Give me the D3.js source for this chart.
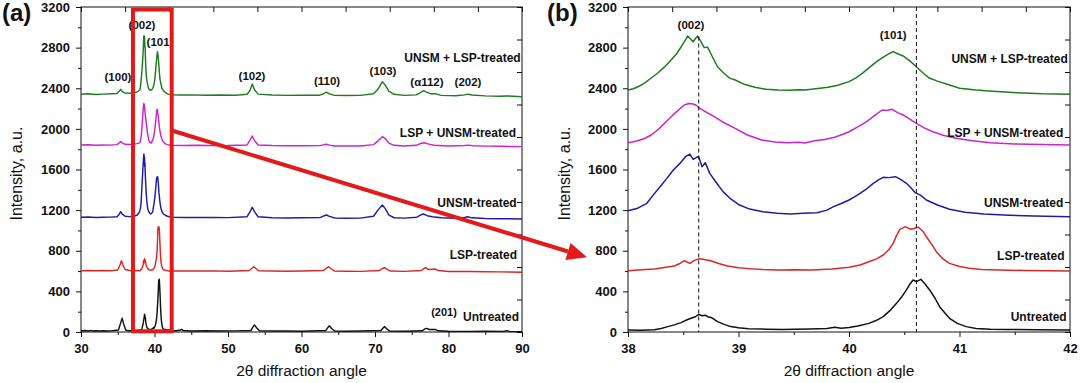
<!DOCTYPE html>
<html><head><meta charset="utf-8">
<script src="https://cdn.jsdelivr.net/npm/d3@7"></script>
<style>
body{margin:0;background:#fff}
svg{display:block}
text{font-family:"Liberation Sans",Arial,Helvetica,sans-serif;fill:#111}
</style>
</head><body>
<svg id="c" width="1080" height="383"></svg>
<script>
// ---------------- DATA ----------------
const seriesNames = ["Untreated","LSP-treated","UNSM-treated","LSP + UNSM-treated","UNSM + LSP-treated"];
const leftXTicks = [30,40,50,60,70,80,90];
const rightXTicks = [38,39,40,41,42];
const yTicks = [0,400,800,1200,1600,2000,2400,2800,3200];

// detailed patterns between 38 and 42 degrees (shown in panel b, and inside the box of panel a)
const untreatedZoom = [[38.00,20],[38.12,18],[38.24,22],[38.30,35],[38.36,53],[38.42,70],[38.48,92],[38.53,118],[38.57,135],[38.61,150],[38.64,174],[38.67,160],[38.70,165],[38.72,151],[38.76,140],[38.81,102],[38.87,75],[38.93,53],[39.00,42],[39.09,33],[39.25,28],[39.40,25],[39.51,26],[39.65,30],[39.80,35],[39.87,46],[39.93,38],[40.00,45],[40.08,60],[40.18,85],[40.25,115],[40.31,151],[40.37,210],[40.43,282],[40.48,350],[40.52,414],[40.55,470],[40.58,512],[40.61,496],[40.65,519],[40.69,470],[40.73,414],[40.78,330],[40.82,249],[40.87,185],[40.91,135],[40.98,85],[41.06,53],[41.15,35],[41.28,26],[41.45,25],[41.70,22],[42.00,20]];
const lspZoom = [[38.00,604],[38.12,612],[38.24,620],[38.33,635],[38.42,650],[38.47,675],[38.51,702],[38.56,676],[38.60,705],[38.65,722],[38.70,712],[38.75,702],[38.82,675],[38.90,650],[39.00,632],[39.09,624],[39.22,615],[39.36,610],[39.50,612],[39.66,610],[39.85,620],[40.00,637],[40.10,660],[40.18,692],[40.25,720],[40.31,758],[40.36,810],[40.40,873],[40.43,950],[40.46,1011],[40.51,1037],[40.54,1020],[40.57,1011],[40.60,1025],[40.63,1031],[40.67,990],[40.70,938],[40.75,860],[40.79,791],[40.85,720],[40.91,676],[41.00,645],[41.09,627],[41.20,615],[41.37,610],[41.60,605],[41.80,602],[42.00,600]];
const unsmZoom = [[38.00,1194],[38.08,1215],[38.17,1267],[38.23,1350],[38.29,1431],[38.35,1510],[38.41,1595],[38.47,1660],[38.52,1726],[38.56,1752],[38.59,1700],[38.62,1720],[38.64,1726],[38.67,1628],[38.70,1667],[38.74,1562],[38.80,1470],[38.86,1382],[38.93,1310],[39.01,1250],[39.10,1210],[39.22,1184],[39.35,1170],[39.47,1162],[39.58,1170],[39.71,1175],[39.80,1200],[39.86,1234],[39.93,1265],[40.00,1300],[40.05,1330],[40.10,1365],[40.16,1410],[40.22,1464],[40.27,1500],[40.31,1523],[40.36,1520],[40.42,1529],[40.47,1500],[40.52,1464],[40.56,1420],[40.60,1372],[40.65,1345],[40.70,1300],[40.80,1250],[40.91,1208],[41.05,1180],[41.22,1162],[41.45,1150],[41.67,1142],[42.00,1135]];
const lspUnsmZoom = [[38.00,1864],[38.08,1880],[38.15,1905],[38.21,1940],[38.28,2000],[38.36,2087],[38.44,2170],[38.51,2235],[38.55,2250],[38.59,2245],[38.62,2230],[38.65,2202],[38.70,2170],[38.78,2120],[38.87,2060],[38.97,2005],[39.08,1940],[39.21,1890],[39.33,1870],[39.45,1864],[39.55,1868],[39.60,1860],[39.69,1884],[39.78,1895],[39.87,1917],[39.94,1945],[40.00,1972],[40.08,2020],[40.16,2071],[40.23,2130],[40.30,2186],[40.34,2180],[40.39,2193],[40.44,2160],[40.49,2137],[40.55,2095],[40.61,2055],[40.68,2010],[40.76,1972],[40.86,1935],[40.97,1907],[41.10,1885],[41.28,1864],[41.50,1852],[41.75,1845],[42.00,1841]];
const unsmLspZoom = [[38.00,2383],[38.05,2395],[38.10,2420],[38.15,2450],[38.21,2501],[38.27,2550],[38.33,2610],[38.39,2678],[38.44,2740],[38.48,2806],[38.51,2860],[38.54,2914],[38.57,2880],[38.59,2858],[38.61,2890],[38.63,2914],[38.66,2860],[38.69,2800],[38.72,2805],[38.75,2740],[38.81,2612],[38.87,2545],[38.92,2500],[38.97,2481],[39.05,2440],[39.15,2409],[39.25,2390],[39.36,2383],[39.45,2380],[39.55,2385],[39.60,2383],[39.70,2395],[39.81,2409],[39.90,2430],[40.00,2465],[40.06,2500],[40.12,2547],[40.18,2600],[40.25,2662],[40.30,2700],[40.34,2727],[40.37,2745],[40.40,2760],[40.44,2740],[40.49,2718],[40.55,2670],[40.61,2612],[40.67,2550],[40.73,2498],[40.80,2470],[40.91,2432],[41.00,2400],[41.15,2383],[41.30,2370],[41.52,2356],[41.75,2345],[42.00,2340]];

// wide-range patterns below 38 and above 42 degrees (panel a)
const untreatedLow = [[30,10],[30.5,14],[31,10],[31.3,16],[31.6,10],[32,12],[32.5,9],[33,12],[33.5,10],[34,11],[34.5,14],[35.1,20],[35.4,90],[35.6,135],[35.8,80],[36.1,18],[36.6,12],[37.2,12],[37.6,15],[37.9,18]];
const untreatedHigh = [[42.3,15],[43.0,12],[43.5,20],[43.7,26],[43.9,14],[45,10],[47,12],[49,9],[51,11],[53.1,14],[53.4,50],[53.6,69],[53.9,40],[54.3,12],[56,9],[58,10],[60,8],[63.3,14],[63.6,45],[63.8,62],[64.1,35],[64.5,10],[66,8],[68,9],[70.8,14],[71.1,40],[71.3,53],[71.6,30],[72,9],[74,7],[76.4,12],[76.8,30],[77.0,36],[77.4,25],[77.8,24],[78.2,26],[78.6,12],[80,7],[83,6],[85,7],[87.5,6],[87.9,14],[88.3,6],[90,3]];
const lspLow = [[30,604],[31,606],[32,603],[33,605],[34,603],[35.0,610],[35.3,660],[35.5,702],[35.7,660],[36.0,615],[36.6,606],[37.2,604],[37.6,604],[37.9,604]];
const lspHigh = [[42.5,600],[44,602],[46,600],[48,602],[50,599],[52.9,605],[53.3,630],[53.5,643],[53.8,625],[54.2,603],[56,600],[58,598],[60,600],[63.0,605],[63.4,630],[63.7,643],[64.0,625],[64.5,600],[66,598],[68,597],[70.6,605],[71.0,625],[71.3,633],[71.6,620],[72.1,600],[74,597],[76.3,605],[76.7,628],[76.9,633],[77.3,615],[77.8,618],[78.2,620],[78.6,605],[80,596],[83,595],[85,593],[87,592],[90,588]];
const unsmLow = [[30,1129],[31,1132],[32,1128],[33,1130],[34,1131],[34.9,1135],[35.2,1160],[35.4,1185],[35.6,1160],[36,1140],[36.6,1136],[37.2,1140],[37.6,1150],[37.9,1175]];
const unsmHigh = [[42.5,1130],[44,1128],[46,1127],[48,1128],[50,1126],[52.6,1135],[53.0,1185],[53.3,1228],[53.6,1185],[54.1,1135],[56,1125],[58,1122],[60,1124],[62.6,1128],[63.1,1145],[63.4,1152],[63.8,1138],[64.5,1122],[66,1120],[68,1121],[69.8,1140],[70.4,1200],[71.0,1250],[71.4,1215],[71.9,1150],[72.6,1125],[74,1121],[75.7,1130],[76.3,1155],[76.6,1162],[77.1,1145],[77.8,1135],[79,1125],[81,1120],[82.2,1128],[82.6,1135],[83.2,1124],[85,1118],[87,1116],[90,1113]];
const lspUnsmLow = [[30,1841],[31,1843],[32,1838],[33,1842],[34,1840],[34.9,1845],[35.2,1862],[35.4,1874],[35.6,1862],[36,1848],[36.6,1846],[37.2,1850],[37.6,1855],[37.9,1860]];
const lspUnsmHigh = [[42.5,1838],[44,1836],[46,1838],[48,1835],[50,1836],[52.6,1842],[53.0,1890],[53.3,1930],[53.6,1885],[54.1,1842],[56,1836],[58,1833],[60,1834],[62.5,1835],[63.1,1845],[63.4,1848],[63.8,1840],[64.5,1832],[66,1831],[68,1832],[69.8,1845],[70.4,1880],[71.0,1923],[71.4,1905],[71.9,1860],[72.6,1838],[74,1832],[75.6,1838],[76.3,1858],[76.7,1864],[77.2,1852],[78,1838],[80,1832],[82.2,1836],[82.7,1840],[83.3,1834],[85,1830],[87,1828],[90,1825]];
const unsmLspLow = [[30,2340],[31,2345],[32,2338],[33,2342],[34,2345],[34.9,2348],[35.2,2370],[35.4,2389],[35.6,2370],[36.0,2352],[36.6,2350],[37.2,2355],[37.6,2362],[37.9,2378]];
const unsmLspHigh = [[42.5,2335],[43.5,2333],[45,2335],[47,2332],[49,2334],[51,2332],[52.6,2340],[53.0,2380],[53.3,2442],[53.6,2385],[54.1,2342],[56,2333],[58,2330],[60,2332],[62.5,2332],[63.1,2350],[63.4,2362],[63.8,2345],[64.5,2330],[66,2328],[68,2330],[69.8,2345],[70.4,2390],[71.0,2465],[71.4,2430],[71.9,2370],[72.6,2340],[74,2330],[75.6,2335],[76.2,2358],[76.6,2376],[77.0,2362],[77.6,2345],[78.3,2345],[79,2330],[81,2327],[82.2,2335],[82.6,2342],[83.2,2333],[85,2325],[87,2322],[88,2324],[90,2317]];

const peakLabelsA = ["(100)","(002)","(101)","(102)","(110)","(103)","(\u03b1112)","(202)"];
const peakLabelsB = ["(002)","(101)"];
const dashedPeaks = [38.64, 40.61];

// ---------------- DRAWING ----------------
const colors = ["#111111","#dc2626","#1c1ca8","#cc22cc","#1e7b1e"];
const zooms = [untreatedZoom, lspZoom, unsmZoom, lspUnsmZoom, unsmLspZoom];
const lows = [untreatedLow, lspLow, unsmLow, lspUnsmLow, unsmLspLow];
const highs = [untreatedHigh, lspHigh, unsmHigh, lspUnsmHigh, unsmLspHigh];

const svg = d3.select("#c");
const xL = d3.scaleLinear().domain([30,90]).range([81,522]);
const xR = d3.scaleLinear().domain([38,42]).range([628,1070]);
const y = d3.scaleLinear().domain([0,3200]).range([332,7]);
const FONT = '"Liberation Sans",Arial,sans-serif';

function drawAxes(x, majors, minors, topTicks) {
  const [x0, x1] = x.range();
  const g = svg.append("g");
  g.append("g").attr("transform", `translate(${x0},0)`)
    .call(d3.axisLeft(y).tickValues(yTicks).tickSize(5).tickPadding(6).tickFormat(d3.format("d")));
  g.append("g").attr("transform", `translate(${x0},0)`)
    .call(d3.axisLeft(y).tickValues(d3.range(200,3200,400)).tickSize(3).tickFormat(""));
  g.append("g").attr("transform", `translate(${x1},0)`)
    .call(d3.axisLeft(y).tickValues(d3.range(0,3201,320)).tickSize(5).tickFormat(""));
  g.append("g").attr("transform", `translate(0,332)`)
    .call(d3.axisBottom(x).tickValues(majors).tickSize(5).tickPadding(7).tickFormat(d3.format("d")));
  g.append("g").attr("transform", `translate(0,332)`)
    .call(d3.axisBottom(x).tickValues(minors).tickSize(3).tickFormat(""));
  g.append("g").attr("transform", `translate(0,7)`)
    .call(d3.axisBottom(x).tickValues(topTicks).tickSize(5).tickFormat(""));
  g.selectAll(".domain").remove();
  g.selectAll(".tick line").attr("stroke", "#111").attr("stroke-width", 1);
  g.selectAll(".tick text").attr("font-size", 13).attr("font-weight", "bold")
    .attr("font-family", FONT).attr("fill", "#111");
  g.append("rect").attr("x", x0).attr("y", 7).attr("width", x1 - x0).attr("height", 325)
    .attr("fill", "none").attr("stroke", "#111").attr("stroke-width", 1);
}

// Panel (a)
drawAxes(xL, leftXTicks, d3.range(35,90,10), d3.range(30,91,6));
const lineL = d3.line().x(d => xL(d[0])).y(d => y(d[1]));
zooms.forEach((z, i) => {
  const pts = lows[i].concat(z, highs[i]);
  svg.append("path").attr("d", lineL(pts)).attr("fill", "none")
    .attr("stroke", colors[i]).attr("stroke-width", 1.45).attr("stroke-linejoin", "round");
});

// Panel (b)
drawAxes(xR, rightXTicks, [38.5,39.5,40.5,41.5], d3.range(0,11).map(k => 38 + k*0.4));
const lineR = d3.line().x(d => xR(d[0])).y(d => y(d[1]));
zooms.forEach((z, i) => {
  svg.append("path").attr("d", lineR(z)).attr("fill", "none")
    .attr("stroke", colors[i]).attr("stroke-width", 1.5).attr("stroke-linejoin", "round");
});
svg.append("line").attr("x1", xR(dashedPeaks[0])).attr("x2", xR(dashedPeaks[0]))
  .attr("y1", y(2910)).attr("y2", y(0)).attr("stroke", "#111").attr("stroke-dasharray", "4,3");
svg.append("line").attr("x1", xR(dashedPeaks[1])).attr("x2", xR(dashedPeaks[1]))
  .attr("y1", y(3200)).attr("y2", y(0)).attr("stroke", "#111").attr("stroke-dasharray", "4,3");

function txt(x, yy, s, opts = {}) {
  return svg.append("text").attr("x", x).attr("y", yy).text(s)
    .attr("font-family", FONT)
    .attr("font-size", opts.size || 12)
    .attr("font-weight", opts.weight || "bold")
    .attr("text-anchor", opts.anchor || "start");
}

const peakPosA = [[35.03,2471],[38.30,2983],[40.75,2816],[53.27,2481],[63.47,2432],[71.09,2530],[77.07,2422],[82.65,2422]];
peakLabelsA.forEach((s, i) => txt(xL(peakPosA[i][0]), y(peakPosA[i][1]), s, {anchor: "middle", size: 11.5}));
txt(xL(79.39), y(160), "(201)", {anchor: "middle", size: 11});
const seriesPosA = [[89.59,108],[89.32,719],[89.28,1231],[89.18,1920],[89.82,2658]];
seriesNames.forEach((s, i) => txt(xL(seriesPosA[i][0]), y(seriesPosA[i][1]), s, {anchor: "end", size: 12}));

const peakPosB = [[38.57,2983],[40.40,2885]];
peakLabelsB.forEach((s, i) => txt(xR(peakPosB[i][0]), y(peakPosB[i][1]), s, {anchor: "middle", size: 11.5}));
const seriesPosB = [[41.97,108],[41.95,709],[41.94,1231],[41.94,1920],[41.98,2649]];
seriesNames.forEach((s, i) => txt(xR(seriesPosB[i][0]), y(seriesPosB[i][1]), s, {anchor: "end", size: 12}));

[[xL, 22], [xR, 570]].forEach(([x, tx]) => {
  svg.append("text").attr("transform", `translate(${tx},${y(1560)}) rotate(-90)`)
    .attr("text-anchor", "middle").attr("font-family", FONT).attr("font-size", 16)
    .text("Intensity, a.u.");
  const [a, b] = x.range();
  svg.append("text").attr("x", (a + b) / 2).attr("y", 376).attr("text-anchor", "middle")
    .attr("font-family", FONT).attr("font-size", 15.5).text("2\u03b8 diffraction angle");
});

txt(2, 21, "(a)", {size: 24});
txt(547, 21, "(b)", {size: 24});

const bx0 = xL(37.07), bx1 = xL(42.34), by0 = y(3175), by1 = y(7);
svg.append("rect").attr("x", bx0).attr("y", by0).attr("width", bx1 - bx0).attr("height", by1 - by0)
  .attr("fill", "none").attr("stroke", "#e31a1a").attr("stroke-width", 4);
const ax0 = bx1, ay0 = y(1984), ax1 = xR(37.63), ay1 = y(735);
const ang = Math.atan2(ay1 - ay0, ax1 - ax0);
const hl = 20, hw = 9;
const bxh = ax1 - hl * Math.cos(ang), byh = ay1 - hl * Math.sin(ang);
svg.append("line").attr("x1", ax0).attr("y1", ay0).attr("x2", bxh).attr("y2", byh)
  .attr("stroke", "#e31a1a").attr("stroke-width", 4);
svg.append("path").attr("d", `M${ax1},${ay1} L${bxh - hw*Math.sin(ang)},${byh + hw*Math.cos(ang)} L${bxh + hw*Math.sin(ang)},${byh - hw*Math.cos(ang)} Z`)
  .attr("fill", "#e31a1a");
</script>
</body></html>
